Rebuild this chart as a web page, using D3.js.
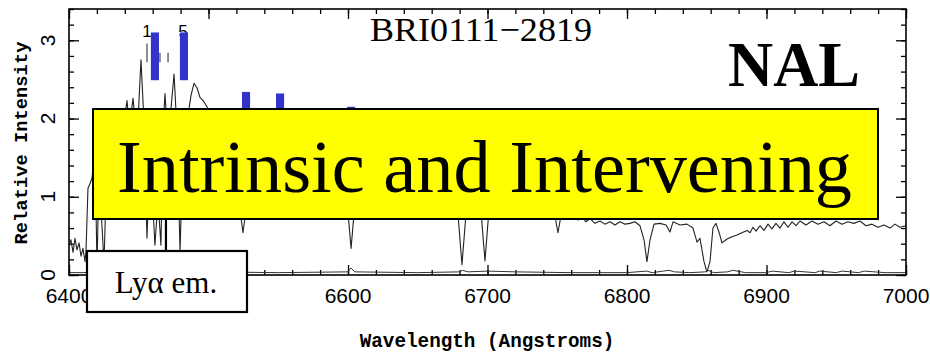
<!DOCTYPE html>
<html>
<head>
<meta charset="utf-8">
<script src="https://cdn.jsdelivr.net/npm/d3@7"></script>
<style>
  body { margin: 0; background: #fff; }
  svg { display: block; }
</style>
</head>
<body>
<div id="chart"></div>
<script>
// spectrum of BRI0111-2819
var wave = [6400.0, 6401.4, 6402.9, 6404.3, 6405.7, 6407.2, 6408.6, 6410.0, 6411.5, 6412.2,
  6413.6, 6415.1, 6416.5, 6418.6, 6420.1, 6421.5, 6425.1, 6427.2, 6433.0, 6438.0,
  6440.1, 6441.6, 6443.0, 6444.4, 6445.9, 6448.0, 6449.5, 6451.6, 6453.7, 6455.9,
  6458.1, 6461.6, 6463.8, 6465.9, 6467.4, 6468.8, 6470.2, 6472.4, 6475.3, 6477.4,
  6479.6, 6481.7, 6485.3, 6487.5, 6489.6, 6491.8, 6493.9, 6496.1, 6498.9, 6502.5,
  6511.8, 6520.5, 6522.8, 6524.7, 6526.6, 6529.0, 6544.1, 6565.6, 6587.1, 6597.5,
  6600.0, 6602.2, 6604.4, 6607.0, 6637.3, 6673.1, 6677.5, 6679.1, 6681.7, 6684.3,
  6686.0, 6692.0, 6695.3, 6698.2, 6701.0, 6704.0, 6723.3, 6746.5, 6748.5, 6750.5,
  6752.5, 6755.0, 6762.7, 6764.9, 6767.7, 6770.6, 6773.5, 6777.0, 6780.6, 6784.2,
  6787.8, 6791.4, 6795.0, 6798.6, 6802.1, 6805.7, 6809.3, 6812.2, 6814.3, 6816.5,
  6819.4, 6823.7, 6828.0, 6830.8, 6833.0, 6838.0, 6843.0, 6847.3, 6850.2, 6852.3,
  6855.2, 6857.3, 6859.5, 6861.6, 6863.8, 6865.9, 6868.1, 6871.7, 6875.3, 6878.8,
  6882.4, 6886.0, 6888.2, 6890.3, 6892.5, 6895.3, 6898.2, 6901.1, 6903.9, 6906.8,
  6909.7, 6912.5, 6915.4, 6918.3, 6921.2, 6924.0, 6928.3, 6932.6, 6936.9, 6941.2,
  6945.5, 6949.8, 6954.1, 6958.4, 6962.7, 6967.0, 6971.3, 6975.6, 6979.9, 6984.2,
  6988.5, 6992.1, 6995.7, 7000.0];
var flux = [0.38, 0.45, 0.29, 0.47, 0.32, 0.41, 0.24, 0.34, 0.17, 0.32,
  1.11, 1.17, 1.24, 1.60, 0.10, 1.34, 0.15, 1.47, 1.72, 1.85,
  2.04, 2.23, 1.92, 2.04, 2.26, 1.85, 1.98, 2.75, 1.98, 0.47,
  1.60, 0.38, 0.96, 0.38, 1.85, 2.32, 1.92, 1.98, 2.57, 1.85,
  0.30, 1.60, 2.04, 2.30, 2.45, 2.39, 2.27, 2.23, 2.15, 2.04,
  1.72, 1.47, 0.80, 0.54, 0.80, 1.40, 1.40, 1.34, 1.28, 1.21,
  0.80, 0.34, 0.80, 1.21, 1.15, 1.09, 0.85, 0.72, 0.13, 0.72,
  0.85, 1.02, 0.82, 0.18, 0.82, 1.02, 0.96, 0.89, 0.74, 0.54,
  0.74, 0.89, 0.80, 0.70, 0.75, 0.68, 0.72, 0.66, 0.69, 0.65,
  0.68, 0.64, 0.68, 0.65, 0.66, 0.68, 0.63, 0.45, 0.17, 0.45,
  0.65, 0.66, 0.64, 0.55, 0.68, 0.64, 0.65, 0.60, 0.42, 0.47,
  0.17, 0.04, 0.17, 0.60, 0.66, 0.55, 0.41, 0.46, 0.49, 0.51,
  0.54, 0.57, 0.54, 0.61, 0.56, 0.63, 0.57, 0.65, 0.59, 0.66,
  0.60, 0.68, 0.61, 0.68, 0.63, 0.69, 0.64, 0.69, 0.65, 0.68,
  0.63, 0.69, 0.65, 0.68, 0.66, 0.69, 0.63, 0.65, 0.61, 0.64,
  0.60, 0.65, 0.61, 0.63];

// error spectrum near zero
var errWave = [6400, 6410, 6420, 6440, 6470, 6500, 6550, 6600, 6602, 6605, 6650, 6680,
  6682, 6686, 6700, 6720, 6760, 6800, 6814, 6818, 6826, 6830, 6834, 6845, 6856,
  6858, 6862, 6872, 6876, 6885, 6900, 6904, 6916, 6920, 6935, 6938, 6950, 6954,
  6966, 6970, 6985, 7000];
var errFlux = [0.03, 0.03, 0.04, 0.04, 0.04, 0.04, 0.03, 0.04, 0.09, 0.04, 0.03, 0.04,
  0.06, 0.04, 0.05, 0.04, 0.03, 0.03, 0.05, 0.03, 0.05, 0.06, 0.04, 0.03, 0.04,
  0.06, 0.03, 0.04, 0.06, 0.03, 0.03, 0.05, 0.03, 0.05, 0.03, 0.05, 0.03, 0.05,
  0.03, 0.05, 0.03, 0.03];

// absorber markers (blue bars)
var barWave = [6461.6, 6482.4, 6526.9, 6551.3, 6602.2];
var barTop = [3.10, 3.10, 2.34, 2.32, 2.15];
var barBottom = [2.49, 2.49, 1.80, 1.80, 1.80];
var barHalfWidth = 2.9;

// line identification ticks and labels
var idWave = [6455.9, 6465.2, 6471.0];
var idTop = [2.96, 2.84, 2.84];
var idBottom = [2.72, 2.72, 2.72];
var idLabelWave = [6455.9, 6481.7];
var idLabels = ["1", "5"];
var idLabelY = 3.04;

var lyaWave = 6469.5;

var xMajor = [6400, 6500, 6600, 6700, 6800, 6900, 7000];
var yMajor = [0, 1, 2, 3];

var W = 930, H = 355;
var margin = {top: 9, right: 24, bottom: 80, left: 69};

var svg = d3.select("#chart").append("svg")
  .attr("width", W)
  .attr("height", H);

var x = d3.scaleLinear().domain([6400, 7000]).range([margin.left, W - margin.right]);
var y = d3.scaleLinear().domain([0, 3.4]).range([H - margin.bottom, margin.top]);

svg.append("clipPath").attr("id", "plotclip")
  .append("rect")
  .attr("x", x(6400)).attr("y", y(3.4))
  .attr("width", x(7000) - x(6400)).attr("height", y(0) - y(3.4));

// ticks on all four sides, pointing inward
var xMinor = d3.range(6400, 7001, 20);
var yMinor = d3.range(0, 3.41, 0.2);

function tickAxis(axis, ticks, size) {
  return axis.tickValues(ticks).tickSize(size).tickFormat("");
}

var axes = svg.append("g").attr("class", "axes");
[[d3.axisBottom(x), "translate(0," + y(0) + ")"],
 [d3.axisTop(x), "translate(0," + y(3.4) + ")"]].forEach(function(a) {
  axes.append("g").attr("transform", a[1]).call(tickAxis(a[0], xMinor, -5));
  axes.append("g").attr("transform", a[1]).call(tickAxis(a[0], xMajor, -10));
});
[[d3.axisLeft(y), "translate(" + x(6400) + ",0)"],
 [d3.axisRight(y), "translate(" + x(7000) + ",0)"]].forEach(function(a) {
  axes.append("g").attr("transform", a[1]).call(tickAxis(a[0], yMinor, -5));
  axes.append("g").attr("transform", a[1]).call(tickAxis(a[0], yMajor, -10));
});
axes.selectAll(".domain").remove();
axes.selectAll("line").attr("stroke", "#000").attr("stroke-width", 1.3);

// tick labels (6500 sits under the Lya box, as in the original)
svg.append("g").selectAll("text")
  .data(xMajor).enter().append("text")
  .attr("x", function(d) { return x(d); })
  .attr("y", 303)
  .attr("text-anchor", "middle")
  .style("font-family", "'Liberation Sans', Arial, sans-serif")
  .style("font-size", "21px")
  .text(function(d) { return d; });

svg.append("g").selectAll("text")
  .data(yMajor).enter().append("text")
  .attr("transform", function(d) { return "translate(55," + y(d) + ") rotate(-90)"; })
  .attr("text-anchor", "middle")
  .style("font-family", "'Liberation Sans', Arial, sans-serif")
  .style("font-size", "21px")
  .text(function(d) { return d; });

// axis titles
svg.append("text")
  .attr("x", 487).attr("y", 347)
  .attr("text-anchor", "middle")
  .style("font-family", "'Liberation Mono', 'Courier New', monospace")
  .style("font-weight", "bold")
  .style("font-size", "19.3px")
  .text("Wavelength (Angstroms)");

svg.append("text")
  .attr("transform", "translate(27," + 143 + ") rotate(-90)")
  .attr("text-anchor", "middle")
  .style("font-family", "'Liberation Mono', 'Courier New', monospace")
  .style("font-weight", "bold")
  .style("font-size", "18.8px")
  .text("Relative Intensity");

svg.append("text")
  .attr("x", 370).attr("y", 41)
  .attr("textLength", 222).attr("lengthAdjust", "spacingAndGlyphs")
  .style("font-family", "'Liberation Serif', 'Times New Roman', serif")
  .style("font-size", "34px")
  .text("BRI0111\u22122819");

// spectrum
var plot = svg.append("g").attr("clip-path", "url(#plotclip)");
var line = d3.line()
  .x(function(d) { return x(d[0]); })
  .y(function(d) { return y(d[1]); });

plot.append("path")
  .datum(d3.zip(errWave, errFlux))
  .attr("d", line)
  .attr("fill", "none")
  .attr("stroke", "#333")
  .attr("stroke-width", 1);

plot.append("path")
  .datum(d3.zip(wave, flux))
  .attr("d", line)
  .attr("fill", "none")
  .attr("stroke", "#222")
  .attr("stroke-width", 1.1)
  .attr("stroke-linejoin", "round");

// frame
svg.append("rect")
  .attr("x", x(6400)).attr("y", y(3.4))
  .attr("width", x(7000) - x(6400)).attr("height", y(0) - y(3.4))
  .attr("fill", "none").attr("stroke", "#000").attr("stroke-width", 1.6);

// line IDs
svg.append("g").selectAll("line")
  .data(d3.range(idWave.length)).enter().append("line")
  .attr("x1", function(i) { return x(idWave[i]); })
  .attr("x2", function(i) { return x(idWave[i]); })
  .attr("y1", function(i) { return y(idTop[i]); })
  .attr("y2", function(i) { return y(idBottom[i]); })
  .attr("stroke", "#444").attr("stroke-width", 1.2);

svg.append("g").selectAll("text")
  .data(d3.range(idLabels.length)).enter().append("text")
  .attr("x", function(i) { return x(idLabelWave[i]); })
  .attr("y", y(idLabelY))
  .attr("text-anchor", "middle")
  .style("font-family", "'Liberation Sans', Arial, sans-serif")
  .style("font-size", "17px")
  .text(function(i) { return idLabels[i]; });

// blue absorber bars
svg.append("g").selectAll("rect")
  .data(d3.range(barWave.length)).enter().append("rect")
  .attr("x", function(i) { return x(barWave[i] - barHalfWidth); })
  .attr("width", function(i) { return x(barWave[i] + barHalfWidth) - x(barWave[i] - barHalfWidth); })
  .attr("y", function(i) { return y(barTop[i]); })
  .attr("height", function(i) { return y(barBottom[i]) - y(barTop[i]); })
  .attr("fill", "#3333cc");

// annotations
svg.append("line")
  .attr("x1", x(lyaWave)).attr("x2", x(lyaWave))
  .attr("y1", 219).attr("y2", 251)
  .attr("stroke", "#000").attr("stroke-width", 2.2);

svg.append("rect")
  .attr("x", 93).attr("y", 109).attr("width", 785).attr("height", 110)
  .attr("fill", "#ffff00").attr("stroke", "#000").attr("stroke-width", 2);

svg.append("text")
  .attr("x", 117).attr("y", 192)
  .attr("textLength", 735).attr("lengthAdjust", "spacingAndGlyphs")
  .style("font-family", "'Liberation Serif', 'Times New Roman', serif")
  .style("font-size", "74px")
  .text("Intrinsic and Intervening");

svg.append("rect")
  .attr("x", 87).attr("y", 251).attr("width", 160).attr("height", 61)
  .attr("fill", "#fff").attr("stroke", "#000").attr("stroke-width", 2.2);

svg.append("text")
  .attr("x", 166).attr("y", 293)
  .attr("text-anchor", "middle")
  .style("font-family", "'Liberation Serif', 'Times New Roman', serif")
  .style("font-size", "31px")
  .text("Ly\u03b1 em.");

svg.append("text")
  .attr("x", 728).attr("y", 86)
  .attr("textLength", 132).attr("lengthAdjust", "spacingAndGlyphs")
  .style("font-family", "'Liberation Serif', 'Times New Roman', serif")
  .style("font-weight", "bold")
  .style("font-size", "64px")
  .text("NAL");
</script>
</body>
</html>
